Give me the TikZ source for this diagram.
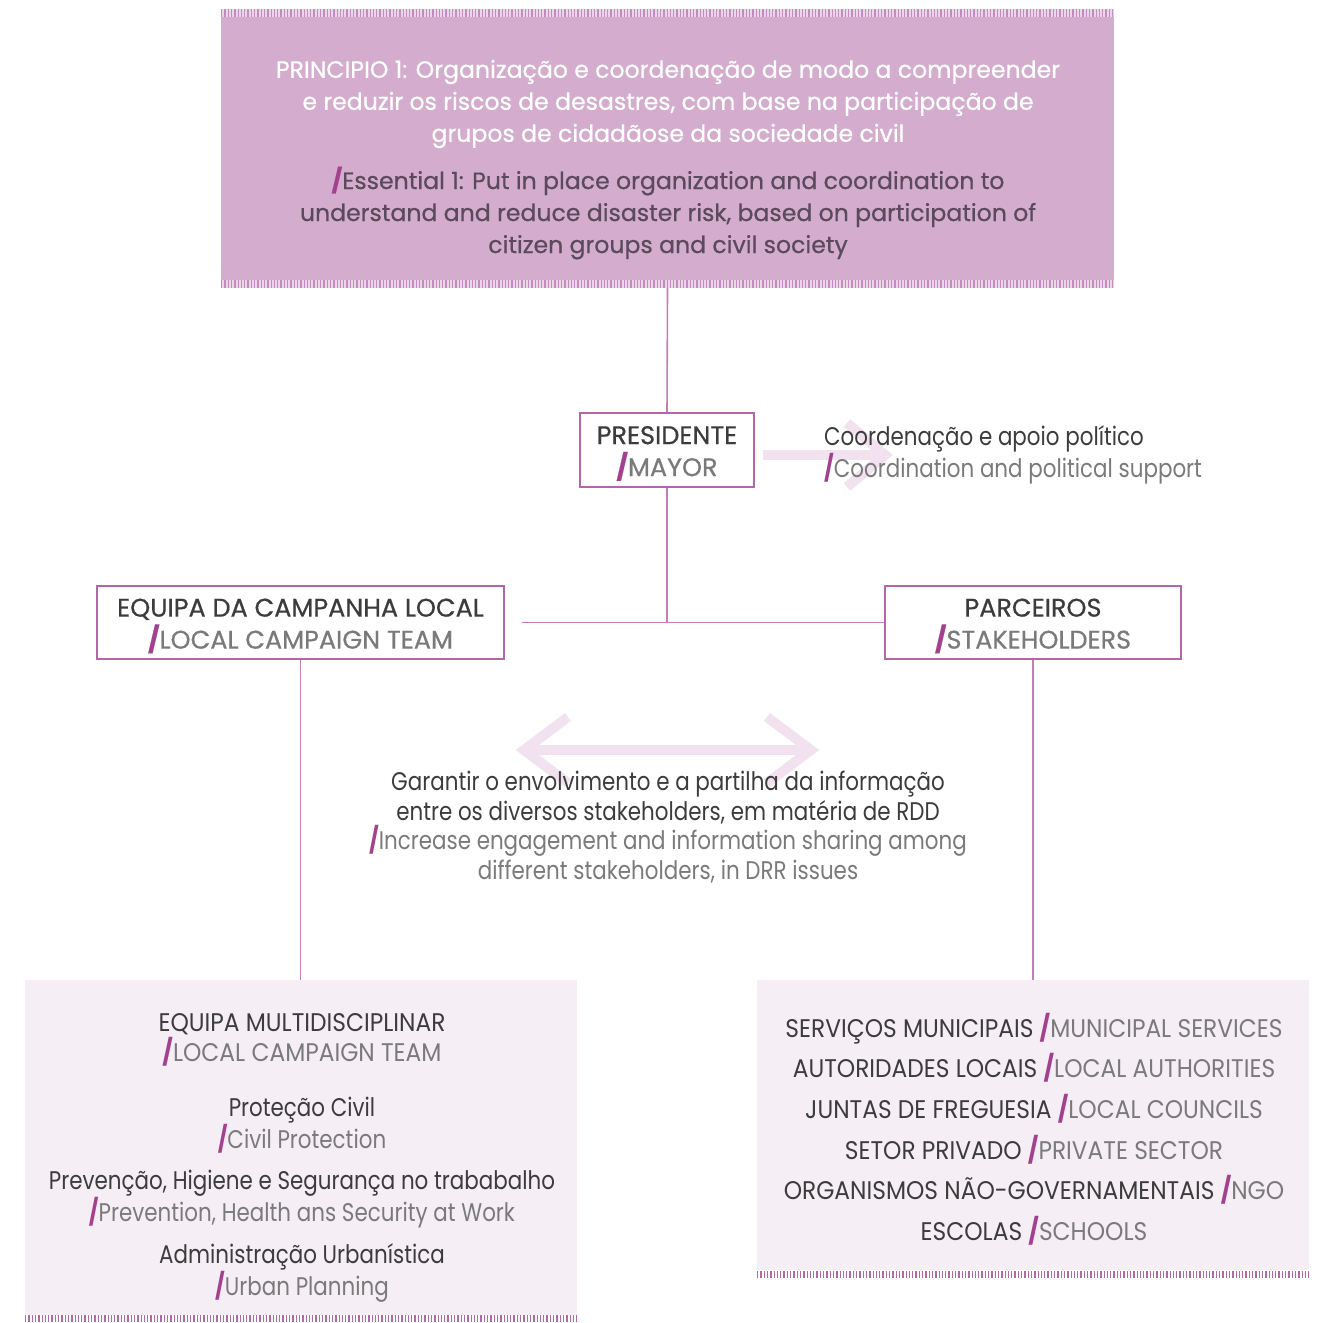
\documentclass[tikz,border=0pt]{standalone}
\usepackage{fontspec}
\setmainfont{Poppins}
\newfontfamily\flt{Poppins}[FakeStretch=0.84]
\newfontfamily\fltc{Poppins}[FakeStretch=0.915]
\newfontfamily\fmd{Poppins}[FakeStretch=1.0,FakeBold=0.6]
\definecolor{topfill}{HTML}{D4ADCE}
\definecolor{topstripe}{HTML}{C58AC0}
\definecolor{topstripebg}{HTML}{EBD6E8}
\definecolor{boxline}{HTML}{B565A9}
\definecolor{connc}{HTML}{C47DB8}
\definecolor{lightfill}{HTML}{F5EEF5}
\definecolor{botstripe}{HTML}{B466A8}
\definecolor{botstripebg}{HTML}{F0DDEC}
\definecolor{arrowc}{HTML}{F2E2EF}
\definecolor{darkt}{HTML}{3C3C3C}
\definecolor{greyt}{HTML}{7A7A7A}
\definecolor{slashc}{HTML}{A4418E}
\definecolor{topdark}{HTML}{5A4A5C}
\newcommand{\psl}{\textcolor{slashc}{\bfseries/}}
\newcommand{\gr}[1]{\textcolor{greyt}{#1}}
\newcommand{\tstrut}{\rule{0pt}{25pt}}
\tikzset{
  bbox/.style={draw=boxline, line width=2, fill=white, inner sep=0, align=center,
    font=\fmd\fontsize{25.5}{32}\selectfont, text=darkt},
  conn/.style={draw=connc, line width=1.6},
  pale/.style={draw=arrowc, line width=10, miter limit=10},
  lighttext/.style={align=center, inner sep=0, text=darkt, font=\flt\fontsize{25.5}{29.5}\selectfont},
  topstrip/.style={draw=topstripe, line width=8, dash pattern=on 1.3 off 2},
  botstrip/.style={draw=botstripe, line width=7, dash pattern=on 1.3 off 2},
}
\begin{document}
\begin{tikzpicture}[x=1pt,y=-1pt]
\useasboundingbox (0,0) rectangle (1329,1322);
% top box
\node[fill=topfill, inner sep=0, minimum width=893, minimum height=279] (top) at (667.5,148.5) {};
\fill[topstripebg] (221,9) rectangle (1114,17);
\fill[topstripebg] (221,280) rectangle (1114,288);
\draw[topstrip] (221,13) -- (1114,13);
\draw[topstrip] (221,284) -- (1114,284);
\node[align=center, inner sep=0, text=white, font=\fmd\fontsize{23.6}{32}\selectfont] (toppt) at (668,104)
  {PRINCIPIO 1: Organização e coordenação de modo a compreender\\
   e reduzir os riscos de desastres, com base na participação de\\
   grupos de cidadãose da sociedade civil};
\node[align=center, inner sep=0, text=topdark, font=\fmd\fontsize{23.6}{32}\selectfont] (topen) at (668,213)
  {\psl Essential 1: Put in place organization and coordination to\\
   understand and reduce disaster risk, based on participation of\\
   citizen groups and civil society};
% pale arrows
\coordinate (ra1) at (763,455);
\coordinate (ra2) at (885,455);
\draw[pale] (ra1) -- (ra2);
\draw[pale] (847,423) -- (ra2) -- (847,487);
\coordinate (da1) at (524,750);
\coordinate (da2) at (811,750);
\draw[pale] (da1) -- (da2);
\draw[pale] (568,717) -- (da1) -- (568,783);
\draw[pale] (767,717) -- (da2) -- (767,783);
% boxes
\node[bbox, minimum width=174, minimum height=74] (pres) at (667,450) {\tstrut PRESIDENTE\\ \psl\gr{MAYOR}};
\node[bbox, minimum width=407, minimum height=73] (lct) at (300.5,622.5) {\tstrut EQUIPA DA CAMPANHA LOCAL\\ \psl\gr{LOCAL CAMPAIGN TEAM}};
\node[bbox, minimum width=296, minimum height=73] (stake) at (1033,622.5) {\tstrut PARCEIROS\\ \psl\gr{STAKEHOLDERS}};
% bottom boxes
\node[fill=lightfill, inner sep=0, minimum width=552, minimum height=335] (bl) at (301,1147.5) {};
\draw[botstrip] (25,1318.5) -- (577,1318.5);
\node[fill=lightfill, inner sep=0, minimum width=552, minimum height=290] (br) at (1033,1125) {};
\draw[botstrip] (757,1274) -- (1309,1274);
% connectors
\coordinate (hub) at (pres.south |- lct.east);
\coordinate (hl) at (522,622.5);
\draw[conn] (top.south) -- (pres.north);
\draw[conn] (pres.south) -- (hub);
\draw[conn] (hl) -- (stake.west);
\draw[conn] (lct.south) -- (lct.south |- bl.north);
\draw[conn] (stake.south) -- (stake.south |- br.north);
% texts
\node[lighttext, align=left, anchor=west, font=\flt\fontsize{25.5}{30}\selectfont] (coord) at (824,455)
  {Coordenação e apoio político\\ \psl\gr{Coordination and political support}};
\node[lighttext] (mid) at (668,827)
  {Garantir o envolvimento e a partilha da informação\\
   entre os diversos stakeholders, em matéria de RDD\\
   \psl\gr{Increase engagement and information sharing among}\\
   \gr{different stakeholders, in DRR issues}};
\node[lighttext, font=\fltc\fontsize{25.5}{29.5}\selectfont] (bl1) at (302,1040) {EQUIPA MULTIDISCIPLINAR\\ \psl\gr{LOCAL CAMPAIGN TEAM}};
\node[lighttext] (bl2) at (302,1125) {Proteção Civil\\ \psl\gr{Civil Protection}};
\node[lighttext] (bl3) at (302,1199) {Prevenção, Higiene e Segurança no trababalho\\ \psl\gr{Prevention, Health ans Security at Work}};
\node[lighttext] (bl4) at (302,1273) {Administração Urbanística\\ \psl\gr{Urban Planning}};
\node[lighttext, font=\fltc\fontsize{25.5}{40.6}\selectfont] (brt) at (1034,1129)
  {SERVIÇOS MUNICIPAIS \psl\gr{MUNICIPAL SERVICES}\\
   AUTORIDADES LOCAIS \psl\gr{LOCAL AUTHORITIES}\\
   JUNTAS DE FREGUESIA \psl\gr{LOCAL COUNCILS}\\
   SETOR PRIVADO \psl\gr{PRIVATE SECTOR}\\
   ORGANISMOS NÃO-GOVERNAMENTAIS \psl\gr{NGO}\\
   ESCOLAS \psl\gr{SCHOOLS}};
\end{tikzpicture}
\end{document}
